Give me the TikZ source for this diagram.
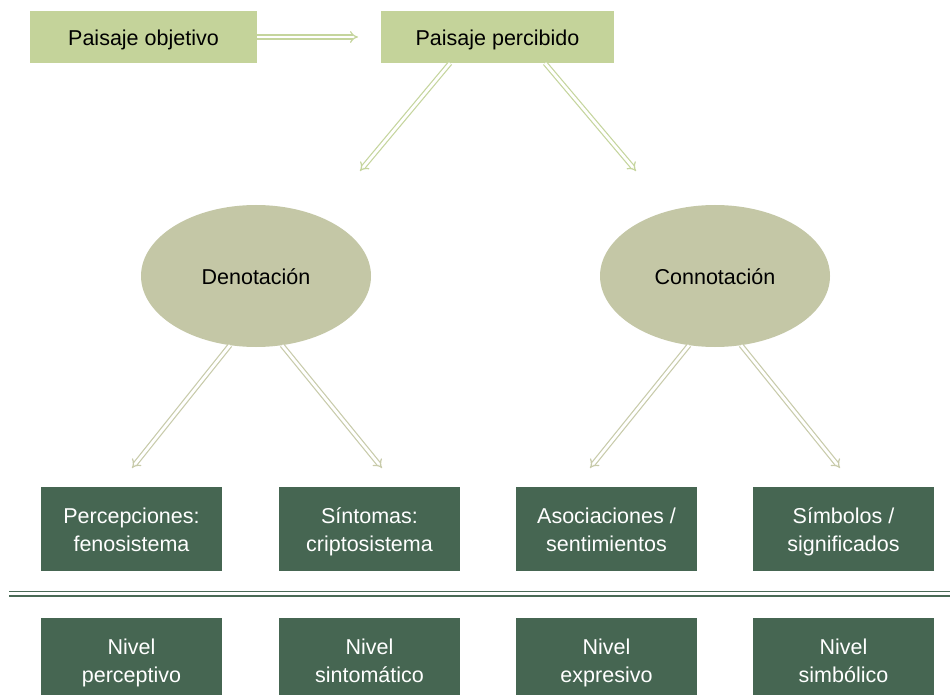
\documentclass[tikz,border=0pt]{standalone}
\usepackage{fontspec}
\setmainfont{Liberation Sans}
\usetikzlibrary{arrows.meta,shapes.geometric}
\definecolor{lightbox}{RGB}{196,211,154}
\definecolor{darkbox}{RGB}{70,102,82}
\definecolor{ellfill}{RGB}{196,199,166}
\definecolor{arrgreen}{RGB}{197,213,157}
\definecolor{arrgrey}{RGB}{200,203,170}
\definecolor{sepline}{RGB}{74,106,86}
\newcommand{\sa}{\rule[-5pt]{0pt}{26.5pt}}
\newcommand{\sx}{\rule[-5pt]{0pt}{22.5pt}}
\tikzset{
  txt/.style={font=\fontsize{21.5}{28}\selectfont, align=center},
  topbox/.style={txt, fill=lightbox, text=black, minimum height=52pt, inner sep=0pt},
  ellbox/.style={txt, ellipse, fill=ellfill, text=black, minimum width=230pt, minimum height=142pt, inner sep=0pt},
  darkbox/.style={txt, fill=darkbox, text=white, minimum width=181pt, minimum height=84pt, inner sep=0pt},
  dblarrow/.style={draw=#1, double=white, double distance=2.8pt, line width=1.2pt, -{Implies[length=7pt]}},
}
\begin{document}
\begin{tikzpicture}[x=1pt,y=-1pt]
\clip (0,0) rectangle (950,695);
\fill[white] (0,0) rectangle (950,695);
\node[topbox, minimum width=227pt] (obj) at (143.5,37) {\sa Paisaje objetivo};
\node[topbox, minimum width=233pt] (perc) at (497.5,37) {\sa Paisaje percibido};
\node[ellbox] (den) at (256,276) {\sa Denotación};
\node[ellbox] (con) at (715,276) {\sa Connotación};
\node[darkbox] (b1) at (131.5,529) {\sa Percepciones:\\\sx fenosistema};
\node[darkbox] (b2) at (369.5,529) {\sa Síntomas:\\\sx criptosistema};
\node[darkbox] (b3) at (606.5,529) {\sa Asociaciones /\\\sx sentimientos};
\node[darkbox] (b4) at (843.5,529) {\sa Símbolos /\\\sx significados};
\node[darkbox] (n1) at (131.5,660) {\sa Nivel\\\sx perceptivo};
\node[darkbox] (n2) at (369.5,660) {\sa Nivel\\\sx sintomático};
\node[darkbox] (n3) at (606.5,660) {\sa Nivel\\\sx expresivo};
\node[darkbox] (n4) at (843.5,660) {\sa Nivel\\\sx simbólico};
\coordinate (hEnd) at (358,37);
\coordinate (pL) at (360,171);
\coordinate (pR) at (636,171);
\coordinate (dL) at (132,468);
\coordinate (dR) at (382,468);
\coordinate (cL) at (590,468);
\coordinate (cR) at (840,468);
\coordinate (sepA) at (9,591.5);
\coordinate (sepB) at (950,591.5);
\coordinate (sepC) at (9,596);
\coordinate (sepD) at (950,596);
\draw[dblarrow=arrgreen] (obj.east) -- (hEnd);
\draw[dblarrow=arrgreen] ([xshift=-47.5pt]perc.south) -- (pL);
\draw[dblarrow=arrgreen] ([xshift=47.5pt]perc.south) -- (pR);
\draw[dblarrow=arrgrey] ([xshift=-26pt,yshift=2pt]den.south) -- (dL);
\draw[dblarrow=arrgrey] ([xshift=26pt,yshift=2pt]den.south) -- (dR);
\draw[dblarrow=arrgrey] ([xshift=-26pt,yshift=2pt]con.south) -- (cL);
\draw[dblarrow=arrgrey] ([xshift=26pt,yshift=2pt]con.south) -- (cR);
\draw[sepline, line width=1.5pt] (sepA) -- (sepB);
\draw[sepline, line width=2pt] (sepC) -- (sepD);
\end{tikzpicture}
\end{document}
